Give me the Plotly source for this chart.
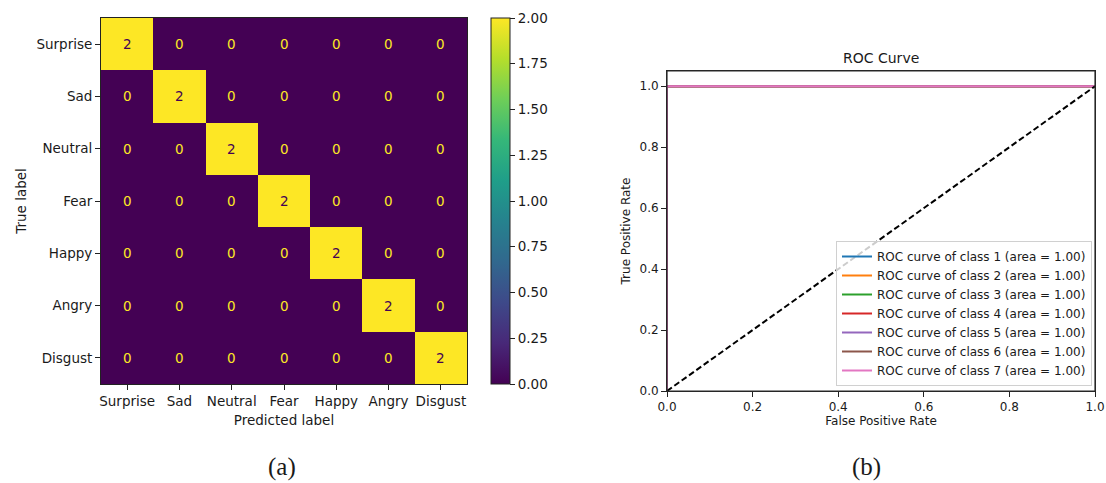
import plotly.graph_objects as go

# ---- data ----
emotions = ["Surprise", "Sad", "Neutral", "Fear", "Happy", "Angry", "Disgust"]
confusion = [
    [2, 0, 0, 0, 0, 0, 0],
    [0, 2, 0, 0, 0, 0, 0],
    [0, 0, 2, 0, 0, 0, 0],
    [0, 0, 0, 2, 0, 0, 0],
    [0, 0, 0, 0, 2, 0, 0],
    [0, 0, 0, 0, 0, 2, 0],
    [0, 0, 0, 0, 0, 0, 2],
]
cbar_ticks = [0.0, 0.25, 0.5, 0.75, 1.0, 1.25, 1.5, 1.75, 2.0]

roc_classes = ["1", "2", "3", "4", "5", "6", "7"]
roc_auc = [1.00, 1.00, 1.00, 1.00, 1.00, 1.00, 1.00]
roc_fpr = [[0.0, 0.0, 1.0]] * 7
roc_tpr = [[0.0, 1.0, 1.0]] * 7
roc_colors = ["#1f77b4", "#ff7f0e", "#2ca02c", "#d62728", "#9467bd", "#8c564b", "#e377c2"]
chance_x = [0.0, 1.0]
chance_y = [0.0, 1.0]
roc_ticks = [0.0, 0.2, 0.4, 0.6, 0.8, 1.0]

W, H = 1106, 483
FONT = "DejaVu Sans"
TXT = "#1a1a1a"
FS = 13.5
FS2 = 12

fig = go.Figure()

fig.add_trace(go.Heatmap(
    z=confusion, x=emotions, y=emotions,
    colorscale="Viridis", zmin=0, zmax=2,
    xaxis="x", yaxis="y", hoverinfo="skip",
    colorbar=dict(
        x=491 / W, xanchor="left", xpad=0, ypad=0,
        y=1 - 384 / H, yanchor="bottom",
        len=(384 - 18) / H, lenmode="fraction",
        thickness=19, thicknessmode="pixels",
        outlinecolor="#222", outlinewidth=1,
        tickvals=cbar_ticks, tickformat=".2f",
        ticks="outside", ticklen=5, tickcolor="#222",
        tickfont=dict(family=FONT, size=FS, color=TXT),
    ),
))

vmax = max(max(r) for r in confusion)
for i, row in enumerate(confusion):
    for j, v in enumerate(row):
        fig.add_annotation(
            x=emotions[j], y=emotions[i], xref="x", yref="y",
            text=str(v), showarrow=False,
            font=dict(family=FONT, size=FS,
                      color="#440154" if v > vmax / 2 else "#fde725"),
        )

for k, cls in enumerate(roc_classes):
    fig.add_trace(go.Scatter(
        x=roc_fpr[k], y=roc_tpr[k], mode="lines",
        line=dict(color=roc_colors[k], width=2),
        name=f"ROC curve of class {cls} (area = {roc_auc[k]:.2f})",
        xaxis="x2", yaxis="y2",
    ))

fig.add_trace(go.Scatter(
    x=chance_x, y=chance_y, mode="lines",
    line=dict(color="black", width=2, dash="6px,3px"),
    showlegend=False, xaxis="x2", yaxis="y2",
))

axis_common = dict(showline=True, linecolor="#222", linewidth=1, mirror=True,
                   ticks="outside", ticklen=5, tickcolor="#222", showgrid=False,
                   zeroline=False, automargin=False)

fig.update_layout(
    width=W, height=H,
    margin=dict(l=0, r=0, t=0, b=0),
    paper_bgcolor="white", plot_bgcolor="white",
    font=dict(family=FONT, color=TXT),
    xaxis=dict(domain=[101 / W, 467 / W], anchor="y", type="category",
               tickfont=dict(family=FONT, size=FS, color=TXT),
               title=dict(text="Predicted label", standoff=7,
                          font=dict(family=FONT, size=FS, color=TXT)),
               **axis_common),
    yaxis=dict(domain=[1 - 384 / H, 1 - 18 / H], anchor="x", type="category",
               autorange="reversed",
               tickfont=dict(family=FONT, size=FS, color=TXT),
               title=dict(text="True label", standoff=6,
                          font=dict(family=FONT, size=FS, color=TXT)),
               **axis_common),
    xaxis2=dict(domain=[667 / W, 1095 / W], anchor="y2", range=[0, 1],
                tickvals=roc_ticks, tickformat=".1f", layer="above traces",
                tickfont=dict(family=FONT, size=FS2, color=TXT),
                title=dict(text="False Positive Rate", standoff=3,
                           font=dict(family=FONT, size=FS2, color=TXT)),
                **axis_common),
    yaxis2=dict(domain=[1 - 391 / H, 1 - 71 / H], anchor="x2", range=[0, 1.05],
                tickvals=roc_ticks, tickformat=".1f", layer="above traces",
                tickfont=dict(family=FONT, size=FS2, color=TXT),
                title=dict(text="True Positive Rate", standoff=6,
                           font=dict(family=FONT, size=FS2, color=TXT)),
                **axis_common),
    legend=dict(x=1092 / W, xanchor="right", y=1 - 386 / H, yanchor="bottom",
                bgcolor="rgba(255,255,255,0.8)", bordercolor="#d0d0d0",
                borderwidth=1, tracegroupgap=0,
                font=dict(family=FONT, size=12, color=TXT)),
    showlegend=True,
)

# frame over the ROC axes (matplotlib spines sit above the lines)
fig.add_shape(type="rect", xref="x2 domain", yref="y2 domain",
              x0=0, x1=1, y0=0, y1=1, layer="above",
              line=dict(color="#2a2a2a", width=1.2), fillcolor="rgba(0,0,0,0)")

fig.add_annotation(x=881 / W, y=1 - 58 / H, xref="paper", yref="paper",
                   xanchor="center", yanchor="middle",
                   text="ROC Curve", showarrow=False,
                   font=dict(family=FONT, size=14, color=TXT))
fig.add_annotation(x=282 / W, y=1 - 467 / H, xref="paper", yref="paper",
                   xanchor="center", yanchor="middle",
                   text="(a)", showarrow=False,
                   font=dict(family="Liberation Serif", size=25, color=TXT))
fig.add_annotation(x=866 / W, y=1 - 467 / H, xref="paper", yref="paper",
                   xanchor="center", yanchor="middle",
                   text="(b)", showarrow=False,
                   font=dict(family="Liberation Serif", size=25, color=TXT))

fig.write_html("out.html")
